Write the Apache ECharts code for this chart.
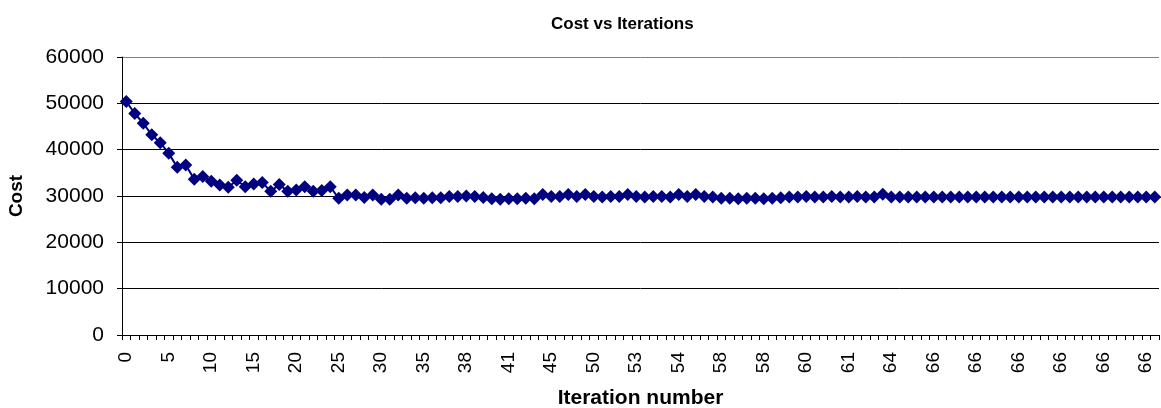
<!DOCTYPE html>
<html>
<head>
<meta charset="utf-8">
<title>Cost vs Iterations</title>
<script src="https://cdn.jsdelivr.net/npm/echarts@6/dist/echarts.min.js"></script>
<style>
  html, body { margin: 0; padding: 0; background: #fff; }
  #chart { width: 1161px; height: 408px; }
</style>
</head>
<body>
<div id="chart"></div>
<script>
// Iteration number recorded for each logged step (category labels)
const iterationLabels = [
  0, 1, 2, 3, 4, 5, 6, 7, 8, 9,
  10, 11, 12, 13, 14, 15, 16, 17, 18, 19,
  20, 21, 22, 23, 24, 25, 26, 27, 28, 29,
  30, 31, 32, 33, 34, 35, 36, 36, 37, 37,
  38, 38, 39, 40, 40, 41, 42, 43, 44, 44,
  45, 46, 47, 48, 49, 50, 51, 51, 52, 52,
  53, 53, 53, 54, 54, 54, 55, 56, 57, 57,
  58, 58, 58, 58, 58, 58, 59, 59, 59, 60,
  60, 60, 61, 61, 61, 61, 62, 62, 63, 63,
  64, 64, 65, 65, 66, 66, 66, 66, 66, 66,
  66, 66, 66, 66, 66, 66, 66, 66, 66, 66,
  66, 66, 66, 66, 66, 66, 66, 66, 66, 66,
  66, 66
];

// Cost value at each logged step
const costValues = [
  50400, 47800, 45700, 43200, 41500, 39200, 36200, 36700, 33600, 34200,
  33200, 32400, 31900, 33400, 32000, 32600, 32900, 31000, 32500, 31000,
  31300, 32000, 31000, 31200, 32000, 29500, 30200, 30200, 29700, 30200,
  29300, 29300, 30200, 29500, 29600, 29500, 29600, 29600, 29900, 29900,
  30000, 29900, 29700, 29400, 29300, 29400, 29400, 29500, 29400, 30300,
  29900, 29900, 30300, 29900, 30300, 29900, 29800, 29900, 29900, 30300,
  29900, 29800, 29900, 29900, 29800, 30300, 29900, 30300, 29900, 29800,
  29500, 29500, 29400, 29500, 29500, 29400, 29500, 29600, 29800, 29800,
  29900, 29800, 29800, 29900, 29800, 29800, 29900, 29800, 29800, 30400,
  29800, 29800, 29800, 29800, 29800, 29800, 29800, 29800, 29800, 29800,
  29800, 29800, 29800, 29800, 29800, 29800, 29800, 29800, 29800, 29800,
  29800, 29800, 29800, 29800, 29800, 29800, 29800, 29800, 29800, 29800,
  29800, 29800
];

// Value axis ticks
const costTicks = { min: 0, max: 60000, step: 10000 };

const FONT = '"Liberation Sans", Arial, sans-serif';
const NAVY = '#000080';

const chart = echarts.init(document.getElementById('chart'), null, { renderer: 'canvas' });

chart.setOption({
  backgroundColor: '#ffffff',
  animation: false,
  title: {
    text: 'Cost vs Iterations',
    left: 546,
    top: 11,
    textStyle: { fontFamily: FONT, fontSize: 17, fontWeight: 'bold', color: '#000' }
  },
  grid: {
    left: 122, right: 2, top: 57, bottom: 73,
    containLabel: false,
    outerBoundsMode: 'none'
  },
  xAxis: {
    type: 'category',
    data: iterationLabels.map(String),
    boundaryGap: true,
    name: 'Iteration number',
    nameLocation: 'middle',
    nameGap: 53,
    nameTextStyle: { fontFamily: FONT, fontSize: 21, fontWeight: 'bold', color: '#000' },
    axisLine: { show: true, lineStyle: { color: '#000', width: 1 } },
    axisTick: { show: true, interval: 0, length: 5, inside: false, lineStyle: { color: '#000' } },
    axisLabel: {
      interval: 4,
      rotate: 90,
      margin: 17,
      fontFamily: FONT,
      fontSize: 19,
      color: '#000'
    },
    splitLine: { show: false }
  },
  yAxis: {
    type: 'value',
    min: costTicks.min,
    max: costTicks.max,
    interval: costTicks.step,
    name: 'Cost',
    nameLocation: 'middle',
    nameGap: 96,
    nameRotate: 90,
    nameTextStyle: { fontFamily: FONT, fontSize: 19, fontWeight: 'bold', color: '#000' },
    axisLine: { show: true, lineStyle: { color: '#000', width: 1 } },
    axisTick: { show: true, length: 5, inside: false, lineStyle: { color: '#000' } },
    axisLabel: {
      margin: 18,
      fontFamily: FONT,
      fontSize: 21,
      color: '#000',
      formatter: (v) => String(v)
    },
    splitLine: {
      show: true,
      lineStyle: { color: ['#000', '#000', '#000', '#000', '#000', '#000', '#808080'], width: 1 }
    }
  },
  series: [{
    type: 'line',
    data: costValues,
    symbol: 'diamond',
    symbolSize: 13,
    showAllSymbol: true,
    lineStyle: { color: NAVY, width: 2 },
    itemStyle: { color: NAVY, borderColor: NAVY, borderWidth: 0 },
    emphasis: { disabled: true }
  }]
});
</script>
</body>
</html>
